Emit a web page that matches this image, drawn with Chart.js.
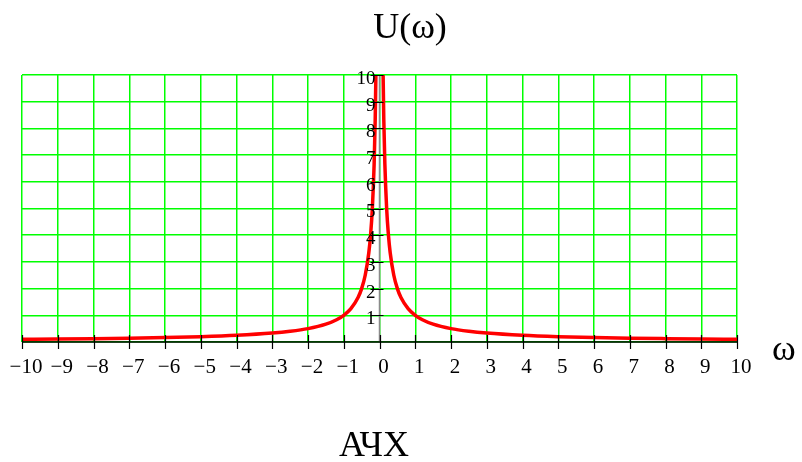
<!DOCTYPE html>
<html>
<head>
<meta charset="utf-8">
<script src="https://cdn.jsdelivr.net/npm/chart.js@4"></script>
<style>
  html, body { margin: 0; padding: 0; background: #fff; }
  #wrap { width: 802px; height: 462px; position: relative; }
</style>
</head>
<body>
<div id="wrap"><canvas id="chart"></canvas></div>
<script>
// omega values and amplitude (null breaks the line at 0)
const omega = [-10, -9, -8, -7, -6, -5, -4, -3, -2.5, -2, -1.5, -1.2, -1, -0.8, -0.6, -0.5, -0.4, -0.3, -0.25, -0.2, -0.15, -0.12, -0.09,
  0,
  0.09, 0.12, 0.15, 0.2, 0.25, 0.3, 0.4, 0.5, 0.6, 0.8, 1, 1.2, 1.5, 2, 2.5, 3, 4, 5, 6, 7, 8, 9, 10]
const amplitude = [0.1, 0.11, 0.125, 0.143, 0.167, 0.2, 0.25, 0.333, 0.4, 0.5, 0.667, 0.833, 1, 1.25, 1.667, 2, 2.5, 3.333, 4, 5, 6.667, 8.333, 11,
  null,
  11, 8.333, 6.667, 5, 4, 3.333, 2.5, 2, 1.667, 1.25, 1, 0.833, 0.667, 0.5, 0.4, 0.333, 0.25, 0.2, 0.167, 0.143, 0.125, 0.11, 0.1]

const xTicks = [-10, -9, -8, -7, -6, -5, -4, -3, -2, -1, 0, 1, 2, 3, 4, 5, 6, 7, 8, 9, 10]
const yTicks = [1, 2, 3, 4, 5, 6, 7, 8, 9, 10]

const yTitle = 'U(\u03c9)'
const xTitle = '\u03c9'
const caption = '\u0410\u0427\u0425'

const serif = '"Liberation Serif", "DejaVu Serif", serif'

function fmt(v) {
    return v < 0 ? '\u2212' + Math.abs(v) : String(v)
}

// axes through the origin, tick marks and labels
const axesPlugin = {
    id: 'mathAxes',
    afterDraw(chart) {
        const ctx = chart.ctx
        const xs = chart.scales.x
        const ys = chart.scales.y
        const x0 = xs.getPixelForValue(0)
        const y0 = ys.getPixelForValue(0)
        ctx.save()

        // vertical axis
        ctx.strokeStyle = '#8a8a8a'
        ctx.lineWidth = 1.5
        ctx.beginPath()
        ctx.moveTo(x0, y0)
        ctx.lineTo(x0, ys.getPixelForValue(10))
        ctx.stroke()

        // horizontal axis
        ctx.strokeStyle = '#000'
        ctx.lineWidth = 1.5
        ctx.beginPath()
        ctx.moveTo(xs.left, y0)
        ctx.lineTo(xs.right, y0)
        ctx.stroke()

        ctx.lineWidth = 1.2
        ctx.beginPath()
        xTicks.forEach(v => {
            const px = Math.round(xs.getPixelForValue(v)) + 0.5
            ctx.moveTo(px, y0 - 7)
            ctx.lineTo(px, y0 + 7)
        })
        yTicks.forEach(v => {
            const py = Math.round(ys.getPixelForValue(v)) + 0.5
            ctx.moveTo(x0 - 9, py)
            ctx.lineTo(x0 + 4, py)
        })
        ctx.stroke()

        ctx.fillStyle = '#000'
        ctx.font = '21px ' + serif
        ctx.textAlign = 'center'
        ctx.textBaseline = 'middle'
        xTicks.forEach(v => {
            ctx.fillText(fmt(v), xs.getPixelForValue(v) + 4, y0 + 25)
        })
        ctx.font = '19px ' + serif
        ctx.textAlign = 'right'
        yTicks.forEach(v => {
            ctx.fillText(String(v), x0 - 4, ys.getPixelForValue(v) + 4)
        })

        ctx.font = '36px ' + serif
        ctx.textBaseline = 'alphabetic'
        ctx.textAlign = 'center'
        ctx.fillText(yTitle, 410, 38)
        ctx.fillText(caption, 374, 456)
        ctx.textAlign = 'left'
        ctx.fillText(xTitle, 772, 360)
        ctx.restore()
    }
}

new Chart(document.getElementById('chart'), {
    type: 'line',
    data: {
        labels: omega,
        datasets: [{
            data: omega.map((w, i) => ({ x: w, y: amplitude[i] })),
            borderColor: '#ff0000',
            borderWidth: 3.5,
            pointRadius: 0,
            cubicInterpolationMode: 'monotone',
            spanGaps: false,
            fill: false
        }]
    },
    options: {
        responsive: true,
        maintainAspectRatio: false,
        animation: false,
        layout: { padding: { left: 22, right: 65, top: 75, bottom: 120 } },
        plugins: {
            legend: { display: false },
            tooltip: { enabled: false }
        },
        scales: {
            x: {
                type: 'linear',
                min: -10,
                max: 10,
                ticks: { display: false, stepSize: 1 },
                grid: { color: '#00ff00', lineWidth: 1.5, drawTicks: false },
                border: { display: false }
            },
            y: {
                min: 0,
                max: 10,
                ticks: { display: false, stepSize: 1 },
                grid: { color: '#00ff00', lineWidth: 1.5, drawTicks: false },
                border: { display: false }
            }
        }
    },
    plugins: [axesPlugin]
})
</script>
</body>
</html>
